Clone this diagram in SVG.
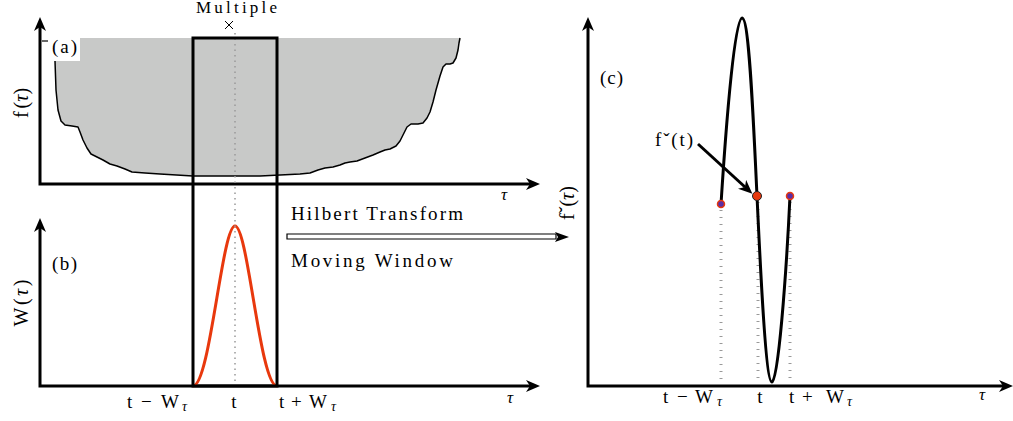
<svg xmlns="http://www.w3.org/2000/svg" width="1013" height="421" viewBox="0 0 1013 421">
<defs>
<marker id="ah" viewBox="0 0 14 12" refX="4" refY="6" markerWidth="14" markerHeight="12" markerUnits="userSpaceOnUse" orient="auto-start-reverse"><path d="M0,0 L14,6 L0,12 L4,6 Z" fill="#000"/></marker>
<style>
.axis{fill:none;stroke:#000;stroke-width:3;stroke-linejoin:miter}
.cl{stroke:#999;stroke-width:1.5;stroke-dasharray:1.5 4}
.vd{stroke:#999;stroke-width:3;stroke-dasharray:1 6}
.it{font-style:italic}
</style>
</defs>
<rect width="1013" height="421" fill="#fff"/>
<g font-family="'Liberation Serif', 'DejaVu Serif', serif" font-size="19" fill="#000">
<g id="panel-a">
<path d="M55,38 L55,61 L56,90 L58,110 L61,121 L65,125 L72,126 L78,127 L80,132 L83,140 L87,148 L91,154 L97,157 L103,160 L110,164 L117,166 L125,169 L132,172 L145,173 L160,174 L193,176 L230,176 L260,176 L280,175 L300,174 L310,173 L318,170 L325,168 L333,167 L340,165 L345,163 L350,162 L357,161 L365,158 L373,155 L380,152 L385,150 L390,149 L396,146 L400,141 L403,135 L407,127 L411,124 L418,124 L423,123 L427,118 L430,112 L433,102 L436,90 L440,76 L443,67 L446,64 L450,64 L453,63 L456,58 L458,50 L459,43 L460,38 Z" fill="#c8c9c8"/>
<polyline points="55,61 56,90 58,110 61,121 65,125 72,126 78,127 80,132 83,140 87,148 91,154 97,157 103,160 110,164 117,166 125,169 132,172 145,173 160,174 193,176 230,176 260,176 280,175 300,174 310,173 318,170 325,168 333,167 340,165 345,163 350,162 357,161 365,158 373,155 380,152 385,150 390,149 396,146 400,141 403,135 407,127 411,124 418,124 423,123 427,118 430,112 433,102 436,90 440,76 443,67 446,64 450,64 453,63 456,58 458,50 459,43 460,38" fill="none" stroke="#000" stroke-width="1.5" stroke-linejoin="round"/>
<rect x="47" y="38" width="33" height="23" fill="#fff"/>
<line x1="42" y1="41" x2="48" y2="41" stroke="#000" stroke-width="1.2"/>
<text x="52" y="53" textLength="25">(a)</text>
<path class="axis" d="M40,27 V184 H530" marker-start="url(#ah)" marker-end="url(#ah)"/>
<text transform="translate(28,103) rotate(-90)" text-anchor="middle" font-size="20">f<tspan dx="3">(</tspan><tspan class="it">τ</tspan>)</text>
<text x="504" y="200" class="it" text-anchor="middle" font-size="17">τ</text>
</g>
<g id="panel-b">
<path class="axis" d="M40,228 V386 H530" marker-start="url(#ah)" marker-end="url(#ah)"/>
<text x="52" y="270" textLength="25">(b)</text>
<text transform="translate(28,303) rotate(-90)" text-anchor="middle" font-size="20" textLength="47">W(<tspan class="it">τ</tspan>)</text>
<text x="510" y="403" class="it" text-anchor="middle" font-size="17">τ</text>
<path d="M193,386 C210,386 222,226 235,226 C248,226 260,386 277,386" fill="none" stroke="#e8380d" stroke-width="3"/>
<text y="408"><tspan x="127">t</tspan><tspan x="141">−</tspan><tspan x="161">W</tspan><tspan x="182" dy="3" class="it" font-size="14">τ</tspan></text>
<text y="408" x="234" text-anchor="middle">t</text>
<text y="408"><tspan x="279">t</tspan><tspan x="291">+</tspan><tspan x="309">W</tspan><tspan x="331" dy="3" class="it" font-size="14">τ</tspan></text>
</g>
<g id="window">
<line class="cl" x1="235" y1="33" x2="235" y2="386"/>
<rect x="193" y="38" width="84" height="348" fill="none" stroke="#000" stroke-width="3"/>
<text x="196" y="13" font-size="17" textLength="81">Multiple</text>
<path d="M225,21 L233,29 M233,21 L225,29" stroke="#000" stroke-width="1"/>
</g>
<g id="connectors">
<path d="M287,234 H556 V239 H287 Z" fill="#fff" stroke="#000" stroke-width="1.2"/>
<path d="M555,232 L569,237 L555,242 L558,237 Z" fill="#000"/>
<text x="291" y="220" textLength="172">Hilbert Transform</text>
<text x="291" y="267" textLength="162">Moving Window</text>
<line x1="698" y1="144" x2="745" y2="187" stroke="#000" stroke-width="3" marker-end="url(#ah)"/>
</g>
<g id="panel-c">
<path class="axis" d="M588,27 V386 H1003" marker-start="url(#ah)" marker-end="url(#ah)"/>
<text x="600" y="84" textLength="23">(c)</text>
<text transform="translate(574,203) rotate(-90)" text-anchor="middle" font-size="20">fˇ(<tspan class="it">τ</tspan>)</text>
<text x="982" y="400" class="it" text-anchor="middle" font-size="17">τ</text>
<line class="vd" x1="721" y1="210" x2="721" y2="381"/>
<line class="vd" x1="758" y1="202" x2="758" y2="381"/>
<line class="vd" x1="790" y1="202" x2="790" y2="383"/>
<path d="M721,204 C727,110 735,18 742,18 C749,18 753,110 757,196 C761,282 766,382 772,382 C778,382 786,280 790,196" fill="none" stroke="#000" stroke-width="3"/>
<circle cx="721" cy="204" r="3.5" fill="#5a2ea6" stroke="#e8380d" stroke-width="1.5"/>
<circle cx="790" cy="196" r="3.5" fill="#5a2ea6" stroke="#e8380d" stroke-width="1.5"/>
<circle cx="757" cy="196" r="4.5" fill="#e8380d" stroke="#222" stroke-width="1"/>
<text x="655" y="146" textLength="38">fˇ(t)</text>
<text y="403"><tspan x="663">t</tspan><tspan x="677">−</tspan><tspan x="695">W</tspan><tspan x="717" dy="3" class="it" font-size="14">τ</tspan></text>
<text y="403" x="760" text-anchor="middle">t</text>
<text y="403"><tspan x="789">t</tspan><tspan x="802">+</tspan><tspan x="826">W</tspan><tspan x="847" dy="3" class="it" font-size="14">τ</tspan></text>
</g>
</g>
</svg>
